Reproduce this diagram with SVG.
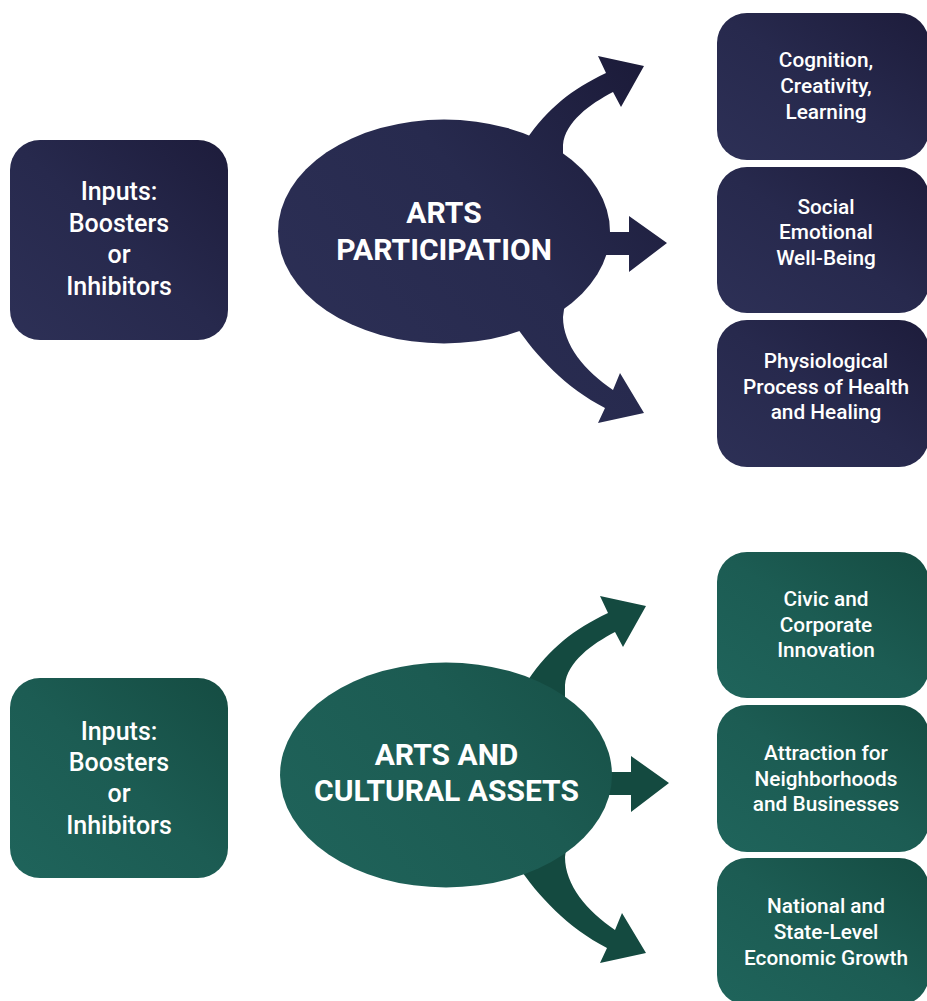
<svg xmlns="http://www.w3.org/2000/svg" width="927" height="1001" viewBox="0 0 927 1001">
  <style>
    .bt { font-family: Roboto, "Liberation Sans", sans-serif; font-weight: 500; fill: #ffffff; text-anchor: middle; }
    .lt { font-size: 25px; }
    .rt { font-size: 20.8px; }
    .et { font-family: Roboto, "Liberation Sans", sans-serif; font-weight: 700; font-size: 30px; fill: #ffffff; text-anchor: middle; }
  </style>
  <defs>
    <linearGradient id="navy" x1="1" y1="0" x2="0" y2="1">
      <stop offset="0" stop-color="#1d1c3b"/>
      <stop offset="0.5" stop-color="#27294d"/>
      <stop offset="1" stop-color="#2d3056"/>
    </linearGradient>
    <linearGradient id="green" x1="1" y1="0" x2="0" y2="1">
      <stop offset="0" stop-color="#154c42"/>
      <stop offset="0.5" stop-color="#1c5c53"/>
      <stop offset="1" stop-color="#1f645b"/>
    </linearGradient>
    <linearGradient id="navyHub" gradientUnits="userSpaceOnUse" x1="650" y1="50" x2="300" y2="340">
      <stop offset="0" stop-color="#1b1a38"/>
      <stop offset="0.5" stop-color="#272a4e"/>
      <stop offset="1" stop-color="#2c2f55"/>
    </linearGradient>
    <linearGradient id="greenHub" gradientUnits="userSpaceOnUse" x1="650" y1="590" x2="300" y2="880">
      <stop offset="0" stop-color="#144a40"/>
      <stop offset="0.5" stop-color="#1c5b52"/>
      <stop offset="1" stop-color="#1f635a"/>
    </linearGradient>
  </defs>

  <!-- Top section -->
  <g id="inputs-top">
    <rect x="10" y="140" width="218" height="200" rx="30" fill="url(#navy)"/>
    <text class="bt lt" x="119" y="200">Inputs:</text>
    <text class="bt lt" x="119" y="231.5">Boosters</text>
    <text class="bt lt" x="119" y="263">or</text>
    <text class="bt lt" x="119" y="295">Inhibitors</text>
  </g>

  <g id="connectors-top" fill="url(#navyHub)">
    <path d="M 526,140 C 548,108 572,89 606,73 L 598,56 L 644,66 L 621,107 L 613,92 C 590,104 565,122 563,145 L 563,160 L 540,170 Z"/>
    <path d="M 596,232 L 629,232 L 629,216 L 667,243 L 629,272 L 629,255 L 596,255 Z"/>
    <path d="M 516,326 C 536,356 566,388 605,408 L 598,423 L 644,413 L 620,373 L 613,390 C 585,371 563,345 563,317 L 565,302 L 540,290 Z"/>
  </g>

  <g id="hub-top">
    <ellipse cx="444" cy="231.5" rx="166" ry="112" fill="url(#navyHub)"/>
    <text class="et" x="444" y="223">ARTS</text>
    <text class="et" x="444" y="260">PARTICIPATION</text>
  </g>

  <g id="out-top-1">
    <rect x="717" y="13" width="212" height="147" rx="30" fill="url(#navy)"/>
    <text class="bt rt" x="826" y="67">Cognition,</text>
    <text class="bt rt" x="826" y="93">Creativity,</text>
    <text class="bt rt" x="826" y="118.5">Learning</text>
  </g>
  <g id="out-top-2">
    <rect x="717" y="167" width="212" height="146" rx="30" fill="url(#navy)"/>
    <text class="bt rt" x="826" y="213.5">Social</text>
    <text class="bt rt" x="826" y="239">Emotional</text>
    <text class="bt rt" x="826" y="265">Well-Being</text>
  </g>
  <g id="out-top-3">
    <rect x="717" y="320" width="212" height="147" rx="30" fill="url(#navy)"/>
    <text class="bt rt" x="826" y="368">Physiological</text>
    <text class="bt rt" x="826" y="393.5">Process of Health</text>
    <text class="bt rt" x="826" y="419">and Healing</text>
  </g>

  <!-- Bottom section -->
  <g id="inputs-bottom">
    <rect x="10" y="678" width="218" height="200" rx="30" fill="url(#green)"/>
    <text class="bt lt" x="119" y="740">Inputs:</text>
    <text class="bt lt" x="119" y="771">Boosters</text>
    <text class="bt lt" x="119" y="802">or</text>
    <text class="bt lt" x="119" y="834">Inhibitors</text>
  </g>

  <g id="connectors-bottom" fill="url(#greenHub)" transform="translate(2,540)">
    <path d="M 526,140 C 548,108 572,89 606,73 L 598,56 L 644,66 L 621,107 L 613,92 C 590,104 565,122 563,145 L 563,160 L 540,170 Z"/>
    <path d="M 596,232 L 629,232 L 629,216 L 667,243 L 629,272 L 629,255 L 596,255 Z"/>
    <path d="M 516,326 C 536,356 566,388 605,408 L 598,423 L 644,413 L 620,373 L 613,390 C 585,371 563,345 563,317 L 565,302 L 540,290 Z"/>
  </g>

  <g id="hub-bottom">
    <ellipse cx="446" cy="775" rx="166" ry="112.5" fill="url(#greenHub)"/>
    <text class="et" x="446.5" y="765">ARTS AND</text>
    <text class="et" x="446.5" y="801">CULTURAL ASSETS</text>
  </g>

  <g id="out-bottom-1">
    <rect x="717" y="552" width="212" height="146" rx="30" fill="url(#green)"/>
    <text class="bt rt" x="826" y="605.5">Civic and</text>
    <text class="bt rt" x="826" y="631.5">Corporate</text>
    <text class="bt rt" x="826" y="657">Innovation</text>
  </g>
  <g id="out-bottom-2">
    <rect x="717" y="705" width="212" height="147" rx="30" fill="url(#green)"/>
    <text class="bt rt" x="826" y="760">Attraction for</text>
    <text class="bt rt" x="826" y="785.5">Neighborhoods</text>
    <text class="bt rt" x="826" y="811">and Businesses</text>
  </g>
  <g id="out-bottom-3">
    <rect x="717" y="858" width="212" height="147" rx="30" fill="url(#green)"/>
    <text class="bt rt" x="826" y="913">National and</text>
    <text class="bt rt" x="826" y="939">State-Level</text>
    <text class="bt rt" x="826" y="965">Economic Growth</text>
  </g>
</svg>
